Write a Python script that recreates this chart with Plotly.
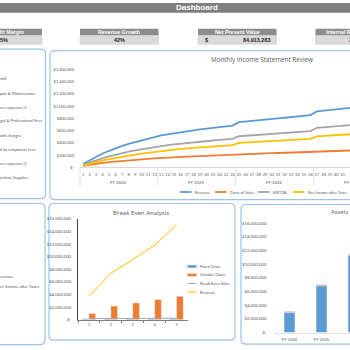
import plotly.graph_objects as go

W = H = 350

# ---------------- data ----------------
months = list(range(1, 44))
fiscal_years = ["FY-2024", "FY-2025", "FY-2026", "FY-2027"]
months_per_year = 12

revenue = [60000, 120000, 175000, 228000, 272000, 315000, 352000, 386000, 416000, 444000, 470000, 495000,
           525000, 542000, 560000, 578000, 594000, 608000, 621000, 634000, 647000, 659000, 671000, 684000,
           740000, 752000, 763000, 773000, 783000, 793000, 802000, 812000, 822000, 833000, 844000, 856000,
           915000, 928000, 940000, 952000, 963000, 975000, 985000]
cost_of_sales = [25000, 45000, 62000, 75000, 87000, 98000, 108000, 117000, 126000, 134000, 141000, 148000,
                 156000, 161000, 166000, 171000, 176000, 181000, 186000, 190000, 194000, 198000, 202000, 206000,
                 218000, 221000, 224000, 227000, 230000, 233000, 236000, 239000, 242000, 245000, 248000, 251000,
                 262000, 265000, 268000, 271000, 274000, 277000, 280000]
ebitda = [42000, 82000, 118000, 152000, 182000, 210000, 235000, 258000, 278000, 297000, 315000, 332000,
          352000, 365000, 378000, 390000, 401000, 412000, 421000, 431000, 440000, 449000, 458000, 467000,
          510000, 518000, 526000, 534000, 541000, 549000, 556000, 563000, 571000, 579000, 586000, 594000,
          648000, 657000, 666000, 675000, 683000, 692000, 700000]
net_income = [28000, 60000, 88000, 114000, 137000, 158000, 177000, 195000, 211000, 226000, 240000, 254000,
              272000, 282000, 292000, 302000, 311000, 319000, 327000, 335000, 343000, 350000, 357000, 364000,
              402000, 408000, 414000, 420000, 426000, 432000, 437000, 443000, 449000, 455000, 461000, 467000,
              508000, 515000, 522000, 529000, 535000, 542000, 548000]
line_ticks = [0, 200000, 400000, 600000, 800000, 1000000, 1200000, 1400000, 1600000]
line_ticktext = ["$-", "$200,000", "$400,000", "$600,000", "$800,000",
                 "$1,000,000", "$1,200,000", "$1,400,000", "$1,600,000"]

be_periods = ["1", "2", "3", "4", "5"]
fixed_costs = [150000, 160000, 170000, 180000, 190000]
variable_costs = [1000000, 2170000, 2680000, 3200000, 3720000]
break_even_sales = [200000, 210000, 220000, 230000, 240000]
be_revenue = [3720000, 7380000, 9550000, 11830000, 15080000]
money_ticks = [0, 2000000, 4000000, 6000000, 8000000, 10000000, 12000000, 14000000, 16000000]
money_ticktext = ["$-", "$2,000,000", "$4,000,000", "$6,000,000", "$8,000,000",
                  "$10,000,000", "$12,000,000", "$14,000,000", "$16,000,000"]

asset_years = ["FY-2024", "FY-2025", "FY-2026"]
current_assets = [2920000, 6850000, 11300000]
other_assets = [150000, 140000, 150000]

expense_labels = ["Payroll", "Repair & Maintenance", "Other expenses 3", "Legal & Professional Fees",
                  "Bank charges", "Land development fees", "Other expenses 2", "Machine Supplies"]
summary_labels = ["Revenue", "Net Income after Taxes"]

kpi_titles = ["Net Profit Margin", "Revenue Growth", "Net Present Value", "Internal Rate of Return"]
kpi_values = ["25%", "42%", "84,913,283", "35%"]

# ---------------- helpers ----------------
FONT = "Lato, Open Sans, sans-serif"
TITLE_FONT = "Open Sans"
GRAY_TXT = "#595959"
BORDER = "#9dc3e6"


def px(x):
    return x / W


def py(y):
    return 1 - y / H


# line chart geometry (pixels)
LX0, MONTH_PX, LY0, LY1 = 80, 6.49, 167.3, 67.7
# break-even geometry
BX0, BX1, BY0, BY1 = 78, 187.5, 322.3, 219.7
# assets geometry
AX0, ACAT, AY0, AY1 = 273.5, 32.0, 335.3, 224.0


def month_px(m):
    return LX0 + (m - 0.5) * MONTH_PX


def rounded(x0, y0, x1, y1, r):
    return (f"M {px(x0 + r)},{py(y0)} L {px(x1 - r)},{py(y0)} Q {px(x1)},{py(y0)} {px(x1)},{py(y0 + r)} "
            f"L {px(x1)},{py(y1 - r)} Q {px(x1)},{py(y1)} {px(x1 - r)},{py(y1)} "
            f"L {px(x0 + r)},{py(y1)} Q {px(x0)},{py(y1)} {px(x0)},{py(y1 - r)} "
            f"L {px(x0)},{py(y0 + r)} Q {px(x0)},{py(y0)} {px(x0 + r)},{py(y0)} Z")


fig = go.Figure()

# ---------------- line chart ----------------
line_series = [("Revenue", revenue, "#5b9bd5"), ("Costs of Sales", cost_of_sales, "#ed7d31"),
               ("EBITDA", ebitda, "#a5a5a5"), ("Net Income after Taxes", net_income, "#ffc000")]
for name, vals, col in line_series:
    fig.add_trace(go.Scatter(x=months, y=vals, mode="lines", name=name,
                             line=dict(color=col, width=1.8), xaxis="x", yaxis="y",
                             showlegend=False, hoverinfo="skip"))

# ---------------- break even ----------------
fig.add_trace(go.Bar(x=be_periods, y=fixed_costs, name="Fixed Costs", marker_color="#5b9bd5",
                     offset=-0.306, width=0.306, xaxis="x2", yaxis="y2", showlegend=False))
fig.add_trace(go.Bar(x=be_periods, y=variable_costs, name="Variable Costs", marker_color="#ed7d31",
                     offset=0.0, width=0.306, xaxis="x2", yaxis="y2", showlegend=False))
fig.add_trace(go.Scatter(x=be_periods, y=break_even_sales, name="Break Even Sales", mode="lines",
                         line=dict(color="#a5a5a5", width=1), xaxis="x2", yaxis="y2", showlegend=False))
fig.add_trace(go.Scatter(x=be_periods, y=be_revenue, name="Revenue", mode="lines",
                         line=dict(color="#ffc000", width=1), xaxis="x2", yaxis="y2", showlegend=False))

# ---------------- assets ----------------
fig.add_trace(go.Bar(x=asset_years, y=current_assets, name="Current Assets", marker_color="#5b9bd5",
                     offset=-0.17, width=0.34, xaxis="x3", yaxis="y3", showlegend=False))
fig.add_trace(go.Bar(x=asset_years, y=other_assets, base=current_assets, name="Other Assets",
                     marker_color="#ed7d31", offset=-0.17, width=0.34, xaxis="x3", yaxis="y3",
                     showlegend=False))

tickfont = dict(family=FONT, size=4, color=GRAY_TXT)
money_font = dict(family=FONT, size=4.3, color=GRAY_TXT)

fig.update_layout(
    width=W, height=H, autosize=False,
    margin=dict(l=0, r=0, t=0, b=0, pad=0),
    paper_bgcolor="white", plot_bgcolor="rgba(0,0,0,0)",
    showlegend=False, barmode="group",
    font=dict(family=FONT, color=GRAY_TXT),
    xaxis=dict(domain=[px(LX0), 1], range=[0.5, 0.5 + (W - LX0) / MONTH_PX], anchor="y",
               tickvals=months, ticktext=[str(m) for m in months], tickangle=0,
               tickfont=tickfont, showline=True, linecolor="#d9d9d9", linewidth=1,
               showgrid=False, zeroline=False, ticks="", ticklabelstandoff=3),
    yaxis=dict(domain=[py(LY0), py(LY1)], range=[0, 1600000], anchor="x",
               tickvals=line_ticks, ticktext=line_ticktext, tickfont=tickfont,
               showgrid=False, zeroline=False, showline=False, ticks="", ticklabelstandoff=5),
    xaxis2=dict(domain=[px(BX0), px(BX1)], type="category", anchor="y2",
                range=[-0.5, len(be_periods) - 0.5], tickfont=tickfont,
                showline=True, linecolor="#7f7f7f", linewidth=1, showgrid=False, zeroline=False,
                ticks="outside", ticklen=2, tickcolor="#7f7f7f", tickson="boundaries", tickwidth=0.6),
    yaxis2=dict(domain=[py(BY0), py(BY1)], range=[0, 16000000], anchor="x2",
                tickvals=money_ticks, ticktext=money_ticktext, tickfont=money_font,
                showgrid=False, zeroline=False, showline=True, linecolor="#404040", linewidth=1,
                ticks="", ticklabelstandoff=5),
    xaxis3=dict(domain=[px(AX0), 1], type="category", anchor="y3",
                range=[-0.5, (W - AX0) / ACAT - 0.5], tickfont=tickfont,
                showline=True, linecolor="#e3e3e3", linewidth=1, showgrid=False, zeroline=False,
                ticks="", ticklabelstandoff=3),
    yaxis3=dict(domain=[py(AY0), py(AY1)], range=[0, 16000000], anchor="x3",
                tickvals=money_ticks, ticktext=money_ticktext, tickfont=money_font,
                showgrid=False, zeroline=False, showline=False, ticks="", ticklabelstandoff=6),
)

shapes = []
ann = []

# title bar
shapes.append(dict(type="rect", xref="paper", yref="paper", x0=px(0), x1=px(W), y0=py(0), y1=py(10),
                   fillcolor="#7f7f7f", line=dict(width=0), layer="below"))
ann.append(dict(x=px(197), y=py(5), xref="paper", yref="paper", text="<b>Dashboard</b>", showarrow=False,
                font=dict(family="Liberation Sans", size=8, color="white"), xanchor="center", yanchor="middle"))

# KPI boxes
kpi_x0 = [-36.5, 80, 198, 315.5]
KW = 78.5
for i, (t, v) in enumerate(zip(kpi_titles, kpi_values)):
    x0 = kpi_x0[i]
    shapes.append(dict(type="rect", xref="paper", yref="paper", x0=px(x0), x1=px(x0 + KW), y0=py(26.3), y1=py(33),
                       fillcolor="#8c8c8c", line=dict(width=0), layer="below"))
    shapes.append(dict(type="rect", xref="paper", yref="paper", x0=px(x0), x1=px(x0 + KW), y0=py(33), y1=py(42),
                       fillcolor="#dadada", line=dict(color="#c8c8c8", width=0.5), layer="below"))
    ann.append(dict(x=px(x0 + KW / 2), y=py(29.7), xref="paper", yref="paper", text=f"<b>{t}</b>",
                    showarrow=False, font=dict(family="Liberation Sans", size=5.3, color="white"),
                    xanchor="center", yanchor="middle"))
    if v.startswith("8"):
        ann.append(dict(x=px(x0 + 4.5), y=py(37.5), xref="paper", yref="paper", text="<b>$</b>",
                        showarrow=False, font=dict(family="Liberation Sans", size=5.5, color="#262626"),
                        xanchor="left", yanchor="middle"))
        ann.append(dict(x=px(x0 + KW - 4), y=py(37.5), xref="paper", yref="paper", text=f"<b>{v}</b>",
                        showarrow=False, font=dict(family="Liberation Sans", size=5.5, color="#262626"),
                        xanchor="right", yanchor="middle"))
    else:
        ann.append(dict(x=px(x0 + KW / 2), y=py(37.5), xref="paper", yref="paper", text=f"<b>{v}</b>",
                        showarrow=False, font=dict(family="Liberation Sans", size=5.5, color="#262626"),
                        xanchor="center", yanchor="middle"))

# panels
for (x0, y0, x1, y1) in [(-20, 47, 45.5, 199), (50, 48.5, 420, 200), (-20, 204, 45, 347.5),
                         (49, 204, 235, 343), (241, 205, 420, 347)]:
    shapes.append(dict(type="path", xref="paper", yref="paper", path=rounded(x0, y0, x1, y1, 5),
                       line=dict(color=BORDER, width=1.2), layer="below"))

# left panel texts (pie legend cut off by the page edge)
exp_y = [77, 92, 106, 120, 135, 149, 163, 178]
exp_x = [-8, -7, -8, -6.5, -5, -9, -8, -6]
for lab, yy, xx in zip(expense_labels, exp_y, exp_x):
    ann.append(dict(x=px(xx), y=py(yy), xref="paper", yref="paper", text=lab, showarrow=False,
                    font=dict(family=FONT, size=4.2, color=GRAY_TXT), xanchor="left", yanchor="middle"))
for lab, yy, xx in zip(summary_labels, [278.5, 288], [-5, -5]):
    ann.append(dict(x=px(xx), y=py(yy), xref="paper", yref="paper", text=lab, showarrow=False,
                    font=dict(family=FONT, size=4.2, color=GRAY_TXT), xanchor="left", yanchor="middle"))

# line chart title
ann.append(dict(x=px(262), y=py(57), xref="paper", yref="paper", text="Monthly Income Statement Review",
                showarrow=False, font=dict(family=TITLE_FONT, size=6.3, color="#595959"),
                xanchor="center", yanchor="middle"))

# fiscal-year group labels and separators
for k, fy in enumerate(fiscal_years):
    first = k * months_per_year + 1
    centre = first + (months_per_year - 1) / 2
    ann.append(dict(x=px(month_px(centre)), y=py(182.3), xref="paper", yref="paper", text=fy,
                    showarrow=False, font=dict(family=FONT, size=4.2, color=GRAY_TXT),
                    xanchor="center", yanchor="middle"))
    xs = month_px(first - 0.5)
    shapes.append(dict(type="line", xref="paper", yref="paper", x0=px(xs), x1=px(xs), y0=py(LY0), y1=py(186),
                       line=dict(color="#d9d9d9", width=0.8)))

# line chart legend
leg_x = [180, 215, 258, 293]
for (name, vals, col), lx in zip(line_series, leg_x):
    shapes.append(dict(type="line", xref="paper", yref="paper", x0=px(lx), x1=px(lx + 11.5),
                       y0=py(192.3), y1=py(192.3), line=dict(color=col, width=1.8)))
    ann.append(dict(x=px(lx + 13), y=py(192.3), xref="paper", yref="paper", text=name, showarrow=False,
                    font=dict(family=FONT, size=3.9, color=GRAY_TXT), xanchor="left", yanchor="middle"))

# break even title + legend
ann.append(dict(x=px(141), y=py(213), xref="paper", yref="paper", text="Break Even Analysis",
                showarrow=False, font=dict(family=TITLE_FONT, size=6.1, color=GRAY_TXT),
                xanchor="center", yanchor="middle"))
be_legend = [("Fixed Costs", "#5b9bd5", "bar"), ("Variable Costs", "#ed7d31", "bar"),
             ("Break Even Sales", "#a5a5a5", "line"), ("Revenue", "#ffc000", "line")]
for i, (name, col, kind) in enumerate(be_legend):
    yy = 268 + 8.7 * i
    if kind == "bar":
        shapes.append(dict(type="rect", xref="paper", yref="paper", x0=px(187.5), x1=px(196.5),
                           y0=py(yy - 1.3), y1=py(yy + 1.3), fillcolor=col, line=dict(width=0)))
    else:
        shapes.append(dict(type="line", xref="paper", yref="paper", x0=px(187.5), x1=px(196.5),
                           y0=py(yy), y1=py(yy), line=dict(color=col, width=1)))
    ann.append(dict(x=px(198), y=py(yy), xref="paper", yref="paper", text=name, showarrow=False,
                    font=dict(family=FONT, size=4.0, color=GRAY_TXT), xanchor="left", yanchor="middle"))

# assets title (cut at the page edge)
ann.append(dict(x=px(328.5), y=py(213), xref="paper", yref="paper", text="Assets & Liabilities",
                showarrow=False, font=dict(family=TITLE_FONT, size=5.8, color=GRAY_TXT),
                xanchor="left", yanchor="middle"))

fig.update_layout(shapes=shapes, annotations=ann)

fig.write_html("out.html", config={"displayModeBar": False},
               post_script="document.body.style.margin='0';")
